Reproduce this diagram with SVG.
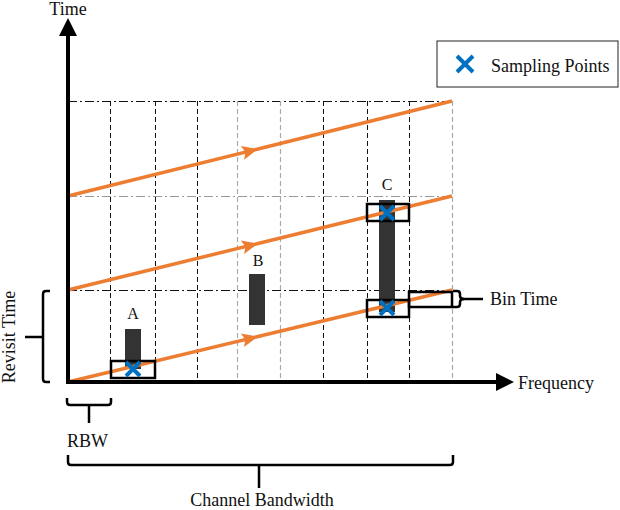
<svg xmlns="http://www.w3.org/2000/svg" width="620" height="510" viewBox="0 0 620 510">
<style>
text{font-family:"Liberation Serif","Times New Roman",serif;font-size:18px;fill:#111}
.lbl{font-size:16px}
.vk{stroke:#111;stroke-width:1;stroke-dasharray:5,3;fill:none}
.vg{stroke:#aaa;stroke-width:1.2;stroke-dasharray:5,3;fill:none}
.hk{stroke:#111;stroke-width:1;stroke-dasharray:9,3,2,3;fill:none}
.hg{stroke:#999;stroke-width:1;stroke-dasharray:9,3,2,3;fill:none}
.sweep{stroke:#ED7D31;stroke-width:3.5;fill:none;marker-mid:url(#oarrow)}
.bar{fill:#333}
.box{fill:none;stroke:#000;stroke-width:2.5}
.brk{fill:none;stroke:#000;stroke-width:2.5}
.x{stroke:#0070C0;stroke-width:4;stroke-linecap:butt}
.axis{stroke:#000;stroke-width:4}
</style>
<defs>
<marker id="oarrow" markerUnits="userSpaceOnUse" markerWidth="18" markerHeight="16" refX="16" refY="7" orient="auto" overflow="visible">
<path d="M0,0 L16,7 L0,14 L3,7 z" fill="#ED7D31"/>
</marker>
<symbol id="xmark" overflow="visible">
<path d="M-7,-7 L7,7 M7,-7 L-7,7" class="x"/>
</symbol>
</defs>

<g id="grid">
<line class="hk" x1="68" y1="101.5" x2="452" y2="101.5"/>
<line class="hg" x1="68" y1="196.5" x2="452" y2="196.5"/>
<line class="hk" x1="68" y1="290.5" x2="452" y2="290.5"/>
<line class="vk" x1="110.5" y1="101" x2="110.5" y2="382"/>
<line class="vk" x1="155.5" y1="101" x2="155.5" y2="382"/>
<line class="vk" x1="197.5" y1="101" x2="197.5" y2="382"/>
<line class="vg" x1="237.5" y1="101" x2="237.5" y2="382"/>
<line class="vg" x1="280.5" y1="101" x2="280.5" y2="382"/>
<line class="vk" x1="323.5" y1="101" x2="323.5" y2="382"/>
<line class="vk" x1="367.5" y1="101" x2="367.5" y2="382"/>
<line class="vk" x1="409.5" y1="101" x2="409.5" y2="382"/>
<line class="vg" x1="452.5" y1="101" x2="452.5" y2="382"/>
</g>

<g id="bars">
<rect id="barA" class="bar" x="125" y="329" width="16" height="40"/>
<rect id="barB" class="bar" x="249" y="274" width="16" height="51"/>
<rect id="barC" class="bar" x="379" y="200" width="16" height="112"/>
</g>

<g id="connectors">
<path class="sweep" d="M68,382 L258,336.5 L452,290"/>
<path class="sweep" d="M68,290 L258,243.5 L452,196"/>
<path class="sweep" d="M68,196 L258,149 L452,101"/>
</g>

<g id="bins">
<rect id="binA" class="box" x="111" y="361" width="44" height="17"/>
<rect id="binC1" class="box" x="367" y="204" width="42" height="17"/>
<rect id="binC2" class="box" x="367" y="300" width="42" height="17"/>
<rect id="binT" class="box" x="409" y="292" width="43" height="15"/>
</g>

<g id="samples">
<use href="#xmark" x="133" y="369"/>
<use href="#xmark" x="387" y="213"/>
<use href="#xmark" x="387" y="308"/>
</g>

<g id="axes">
<line class="axis" x1="68" y1="384" x2="68" y2="33"/>
<polygon points="68,18 77,36 59,36" fill="#000"/>
<line class="axis" x1="66" y1="382" x2="498" y2="382"/>
<polygon points="514,382 496,373 496,391" fill="#000"/>
<text x="68" y="15" text-anchor="middle">Time</text>
<text x="518" y="389">Frequency</text>
</g>

<g id="labels">
<text class="lbl" x="133" y="319" text-anchor="middle">A</text>
<text class="lbl" x="258" y="266" text-anchor="middle">B</text>
<text class="lbl" x="387" y="190" text-anchor="middle">C</text>
</g>

<g id="legend">
<rect x="437" y="41" width="181" height="46" fill="#fff" stroke="#222" stroke-width="1"/>
<path d="M457,56 L473,72 M473,56 L457,72" class="x"/>
<text x="491" y="72">Sampling Points</text>
</g>

<g id="revisit">
<path class="brk" d="M50,291 L46,291 Q43,291 43,294 L43,379 Q43,382 46,382 L50,382"/>
<line class="brk" x1="25" y1="337" x2="43" y2="337"/>
<text transform="translate(15,337) rotate(-90)" text-anchor="middle">Revisit Time</text>
</g>

<g id="bintime">
<path class="brk" d="M453,291 L457,291 Q460,291 460,294 L460,296 Q460,299 464,299 Q460,299 460,302 L460,304 Q460,307 457,307 L453,307"/>
<line class="brk" x1="463" y1="299" x2="483" y2="299"/>
<text x="490" y="305">Bin Time</text>
</g>

<g id="rbw">
<path class="brk" d="M67,398 L67,402 Q67,405 70,405 L108,405 Q111,405 111,402 L111,398"/>
<line class="brk" x1="89" y1="405" x2="89" y2="423"/>
<text x="67" y="447">RBW</text>
</g>

<g id="channel">
<path class="brk" d="M68,455 L68,462 Q68,465 71,465 L450,465 Q453,465 453,462 L453,455"/>
<line class="brk" x1="259" y1="465" x2="259" y2="488"/>
<text x="262" y="506" text-anchor="middle">Channel Bandwidth</text>
</g>
</svg>
